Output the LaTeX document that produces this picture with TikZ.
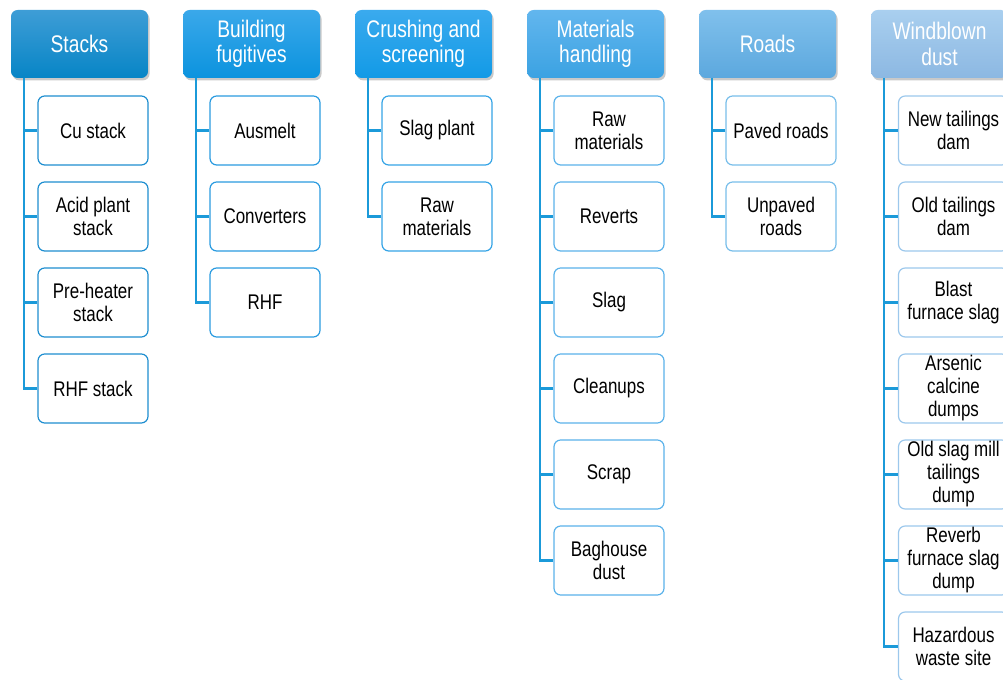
\documentclass[tikz,border=0pt]{standalone}
\usepackage{fontspec}
\setmainfont{Liberation Sans}[FakeStretch=0.8]
\usetikzlibrary{shadows}
\definecolor{lineblue}{HTML}{1B9AD9}
\definecolor{hAtop}{HTML}{3E9DD6}\definecolor{hAbot}{HTML}{0785C6}
\definecolor{hBtop}{HTML}{3AA8EA}\definecolor{hBbot}{HTML}{0B93DE}
\definecolor{hCtop}{HTML}{3AAAEE}\definecolor{hCbot}{HTML}{129AE6}
\definecolor{hDtop}{HTML}{62B6EE}\definecolor{hDbot}{HTML}{3BA2E2}
\definecolor{hEtop}{HTML}{80C0EC}\definecolor{hEbot}{HTML}{5CA8DE}
\definecolor{hFtop}{HTML}{A9CFEF}\definecolor{hFbot}{HTML}{8CB8E2}
\definecolor{bA}{HTML}{1E8ED0}
\definecolor{bB}{HTML}{2A9BE0}
\definecolor{bC}{HTML}{35A4E6}
\definecolor{bD}{HTML}{5AB2EA}
\definecolor{bE}{HTML}{78BEEA}
\definecolor{bF}{HTML}{9CC8EC}
\tikzset{
  x=0.75pt, y=-0.75pt,
  header/.style={rounded corners=5pt, minimum width=137*0.75pt, minimum height=68*0.75pt,
    text=white, align=center, inner sep=0pt,
    font=\fontsize{18pt}{19.2pt}\selectfont,
    drop shadow={shadow xshift=1.2pt, shadow yshift=-1.8pt, opacity=0.3, fill=black!70}},
  child/.style={rounded corners=5pt, draw, line width=0.9pt, fill=white,
    minimum width=110*0.75pt, minimum height=69*0.75pt, align=center, inner sep=0pt,
    font=\fontsize{15.9pt}{17.25pt}\selectfont},
  conn/.style={lineblue, line width=1.9pt}
}
\begin{document}
\begin{tikzpicture}
\useasboundingbox (0,0) rectangle (1003,680);
% headers
\node[header, top color=hAtop, bottom color=hAbot] (hA) at (79.5,44) {Stacks};
\node[header, top color=hBtop, bottom color=hBbot] (hB) at (251.5,44) {Building\\fugitives};
\node[header, top color=hCtop, bottom color=hCbot] (hC) at (423.5,44) {Crushing and\\screening};
\node[header, top color=hDtop, bottom color=hDbot] (hD) at (595.5,44) {Materials\\handling};
\node[header, top color=hEtop, bottom color=hEbot] (hE) at (767.5,44) {Roads};
\node[header, top color=hFtop, bottom color=hFbot] (hF) at (939.5,44) {Windblown\\dust};
% children
\foreach \txt [count=\i] in {Cu stack, Acid plant\\stack, Pre-heater\\stack, RHF stack}
  \node[child, draw=bA] (a\i) at (93, {130.5+86*(\i-1)}) {\txt};
\foreach \txt [count=\i] in {Ausmelt, Converters, RHF}
  \node[child, draw=bB] (b\i) at (265, {130.5+86*(\i-1)}) {\txt};
\foreach \txt [count=\i] in {Slag plant, Raw\\materials}
  \node[child, draw=bC] (c\i) at (437, {130.5+86*(\i-1)}) {\txt};
\foreach \txt [count=\i] in {Raw\\materials, Reverts, Slag, Cleanups, Scrap, Baghouse\\dust}
  \node[child, draw=bD] (d\i) at (609, {130.5+86*(\i-1)}) {\txt};
\foreach \txt [count=\i] in {Paved roads, Unpaved\\roads}
  \node[child, draw=bE] (e\i) at (781, {130.5+86*(\i-1)}) {\txt};
\foreach \txt [count=\i] in {New tailings\\dam, Old tailings\\dam, Blast\\furnace slag, Arsenic\\calcine\\dumps, Old slag mill\\tailings\\dump, Reverb\\furnace slag\\dump, Hazardous\\waste site}
  \node[child, draw=bF] (f\i) at (953.5, {130.5+86*(\i-1)}) {\txt};
% connectors
\foreach \h/\c/\n/\xo in {hA/a/4/24, hB/b/3/196, hC/c/2/368, hD/d/6/540, hE/e/2/712, hF/f/7/884}{
  \coordinate (\h top) at (\xo,78);
  \draw[conn] (\h top) |- (\c\n.west);
  \foreach \k in {1,...,\n}{
    \draw[conn] (\c\k.west) -- (\c\k.west -| \h top);
  }
}
\end{tikzpicture}
\end{document}
